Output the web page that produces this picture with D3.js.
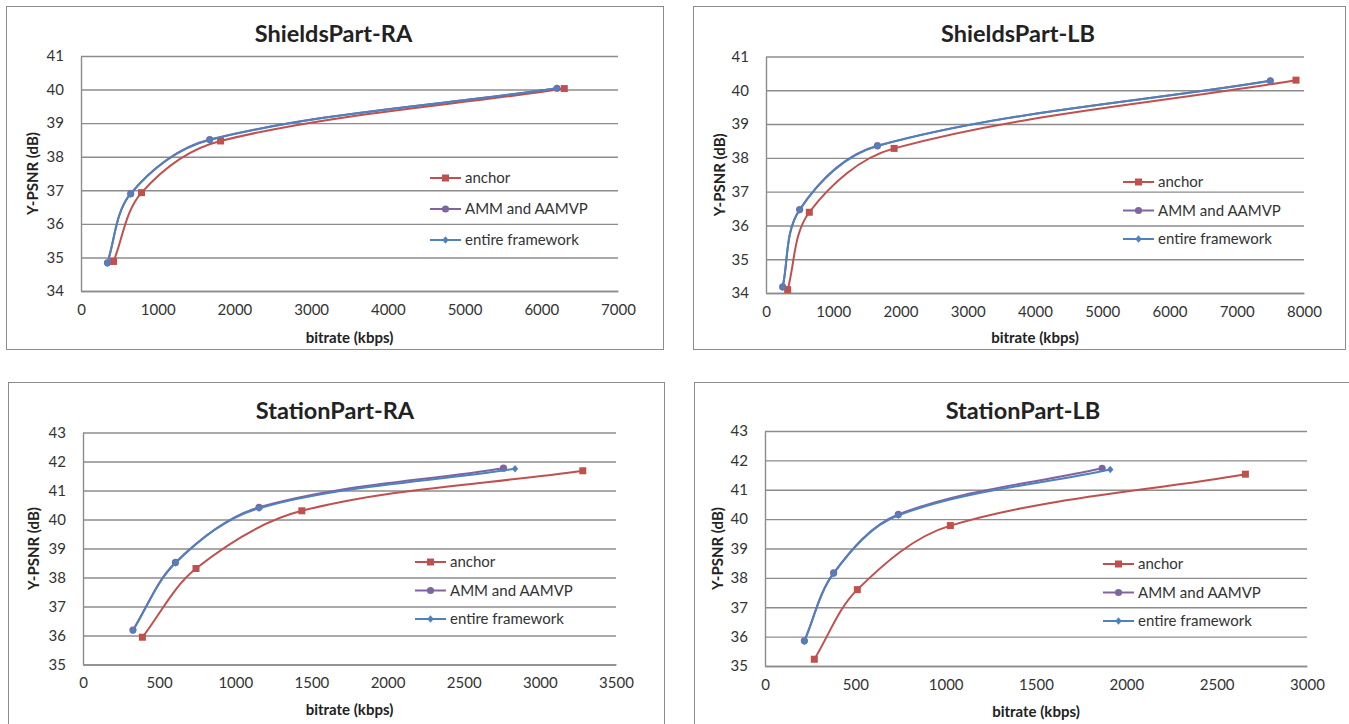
<!DOCTYPE html>
<html>
<head>
<meta charset="utf-8">
<script src="https://cdn.jsdelivr.net/npm/d3@7"></script>
<style>
  body { margin: 0; background: #fff; }
  svg text { font-family: Lato, "Open Sans", sans-serif; fill: #222; }
  .title { font-size: 23.5px; font-weight: bold; }
  .axis-title { font-size: 15px; font-weight: bold; }
  .tick text { font-size: 15px; fill: #333; }
  .legend text { font-size: 15px; fill: #333; }
</style>
</head>
<body>
<div id="chart"></div>
<script>
// series names (legend order)
const seriesNames = ["anchor", "AMM and AAMVP", "entire framework"];
const seriesColors = ["#C0504D", "#8064A2", "#4F81BD"];

// ShieldsPart-RA  [bitrate kbps, Y-PSNR dB]
const shieldsRA_anchor = [[424, 34.88], [789, 36.93], [1819, 38.47], [6300, 40.03]];
const shieldsRA_amm    = [[345, 34.84], [648, 36.90], [1678, 38.51], [6205, 40.04]];
const shieldsRA_entire = [[342, 34.83], [645, 36.89], [1675, 38.50], [6200, 40.04]];

// ShieldsPart-LB
const shieldsLB_anchor = [[322, 34.10], [644, 36.39], [1905, 38.28], [7881, 40.30]];
const shieldsLB_amm    = [[248, 34.18], [500, 36.47], [1657, 38.36], [7499, 40.28]];
const shieldsLB_entire = [[248, 34.17], [500, 36.46], [1657, 38.35], [7499, 40.28]];

// StationPart-RA
const stationRA_anchor = [[390, 35.94], [742, 38.31], [1437, 40.30], [3282, 41.68]];
const stationRA_amm    = [[328, 36.19], [607, 38.52], [1156, 40.42], [2761, 41.77]];
const stationRA_entire = [[328, 36.17], [607, 38.50], [1156, 40.39], [2837, 41.75]];

// StationPart-LB
const stationLB_anchor = [[273, 35.23], [511, 37.60], [1026, 39.78], [2659, 41.53]];
const stationLB_amm    = [[218, 35.86], [380, 38.17], [738, 40.16], [1866, 41.73]];
const stationLB_entire = [[218, 35.84], [380, 38.15], [738, 40.13], [1911, 41.69]];

// axis ticks
const xTicksShieldsRA = d3.range(0, 7001, 1000);
const xTicksShieldsLB = d3.range(0, 8001, 1000);
const xTicksStationRA = d3.range(0, 3501, 500);
const xTicksStationLB = d3.range(0, 3001, 500);
const yTicksShields = d3.range(34, 42, 1);
const yTicksStation = d3.range(35, 44, 1);

const panels = [
  { title: "ShieldsPart-RA", series: [shieldsRA_anchor, shieldsRA_amm, shieldsRA_entire],
    xTicks: xTicksShieldsRA, yTicks: yTicksShields,
    frame: [6, 6, 657, 343], plot: [81, 56, 618, 291], titleY: 42, xTitleY: 343, yTitleX: 38,
    legend: [430, 178, 31] },
  { title: "ShieldsPart-LB", series: [shieldsLB_anchor, shieldsLB_amm, shieldsLB_entire],
    xTicks: xTicksShieldsLB, yTicks: yTicksShields,
    frame: [693, 6, 652, 343], plot: [766, 56.5, 1304, 293], titleY: 42, xTitleY: 343, yTitleX: 725,
    legend: [1123, 182, 28.5] },
  { title: "StationPart-RA", series: [stationRA_anchor, stationRA_amm, stationRA_entire],
    xTicks: xTicksStationRA, yTicks: yTicksStation,
    frame: [8, 382, 656, 360], plot: [83, 432.5, 616, 664.5], titleY: 419, xTitleY: 715, yTitleX: 39,
    legend: [415, 562, 28.5] },
  { title: "StationPart-LB", series: [stationLB_anchor, stationLB_amm, stationLB_entire],
    xTicks: xTicksStationLB, yTicks: yTicksStation,
    frame: [694, 382, 660, 360], plot: [765, 431, 1307, 666], titleY: 419, xTitleY: 717, yTitleX: 723,
    legend: [1103, 564, 28.5] }
];

const svg = d3.select("#chart").append("svg")
  .attr("width", 1349).attr("height", 724);

// spreadsheet-like smoothing: tangent along neighbour chord, handle length scaled to segment
function smoothPath(pts) {
  const p = d3.path();
  const n = pts.length;
  const tan = pts.map((q, i) => {
    const a = pts[Math.max(i - 1, 0)], b = pts[Math.min(i + 1, n - 1)];
    const dx = b[0] - a[0], dy = b[1] - a[1], len = Math.hypot(dx, dy) || 1;
    return [dx / len, dy / len];
  });
  p.moveTo(pts[0][0], pts[0][1]);
  for (let i = 0; i < n - 1; i++) {
    const a = pts[i], b = pts[i + 1];
    const L = Math.hypot(b[0] - a[0], b[1] - a[1]) / 3;
    p.bezierCurveTo(a[0] + tan[i][0] * L, a[1] + tan[i][1] * L,
                    b[0] - tan[i + 1][0] * L, b[1] - tan[i + 1][1] * L, b[0], b[1]);
  }
  return p.toString();
}

function drawMarker(g, i, x, y, color) {
  if (i === 0) {
    g.append("rect").attr("x", x - 3.5).attr("y", y - 3.5)
      .attr("width", 7).attr("height", 7).attr("fill", color);
  } else if (i === 1) {
    g.append("circle").attr("cx", x).attr("cy", y).attr("r", 3.6).attr("fill", color);
  } else {
    g.append("path").attr("d", `M${x} ${y - 3.8} L${x + 3.2} ${y} L${x} ${y + 3.8} L${x - 3.2} ${y} Z`)
      .attr("fill", color);
  }
}

panels.forEach(p => {
  const g = svg.append("g");
  const [fx, fy, fw, fh] = p.frame;
  g.append("rect").attr("x", fx + 0.5).attr("y", fy + 0.5)
    .attr("width", fw).attr("height", fh)
    .attr("fill", "#fff").attr("stroke", "#8c8c8c").attr("stroke-width", 1);

  const [x0, y0, x1, y1] = p.plot;
  const x = d3.scaleLinear().domain(d3.extent(p.xTicks)).range([x0, x1]);
  const y = d3.scaleLinear().domain(d3.extent(p.yTicks)).range([y1, y0]);

  // gridlines
  g.append("g").attr("class", "grid")
    .attr("transform", `translate(${x0},0)`)
    .call(d3.axisLeft(y).tickValues(p.yTicks).tickSize(-(x1 - x0)).tickFormat(""))
    .call(a => a.select(".domain").remove())
    .selectAll("line").attr("stroke", "#8c8c8c").attr("stroke-width", 1.4);

  // y axis labels
  g.append("g").attr("transform", `translate(${x0},0)`)
    .call(d3.axisLeft(y).tickValues(p.yTicks).tickSize(0).tickPadding(17).tickFormat(d3.format("d")))
    .call(a => a.select(".domain").attr("stroke", "#8c8c8c").attr("stroke-width", 1.4));

  // x axis labels
  g.append("g").attr("transform", `translate(0,${y1})`)
    .call(d3.axisBottom(x).tickValues(p.xTicks).tickSize(0).tickPadding(13).tickFormat(d3.format("d")))
    .call(a => a.select(".domain").attr("stroke", "#8c8c8c").attr("stroke-width", 1.4));

  // titles
  g.append("text").attr("class", "title")
    .attr("x", fx + fw / 2 - 1).attr("y", p.titleY).attr("text-anchor", "middle").text(p.title);
  g.append("text").attr("class", "axis-title")
    .attr("x", (x0 + x1) / 2).attr("y", p.xTitleY).attr("text-anchor", "middle").text("bitrate (kbps)");
  g.append("text").attr("class", "axis-title")
    .attr("transform", `translate(${p.yTitleX},${(y0 + y1) / 2}) rotate(-90)`)
    .attr("text-anchor", "middle").text("Y-PSNR (dB)");

  // series lines, anchor first
  p.series.forEach((s, i) => {
    const pts = s.map(d => [x(d[0]), y(d[1])]);
    g.append("path").attr("d", smoothPath(pts))
      .attr("fill", "none").attr("stroke", seriesColors[i]).attr("stroke-width", 2);
    pts.forEach(q => drawMarker(g, i, q[0], q[1], seriesColors[i]));
  });

  // legend
  const [lx, ly, step] = p.legend;
  const lg = g.append("g").attr("class", "legend");
  seriesNames.forEach((name, i) => {
    const yy = ly + i * step;
    lg.append("line").attr("x1", lx).attr("x2", lx + 31).attr("y1", yy).attr("y2", yy)
      .attr("stroke", seriesColors[i]).attr("stroke-width", 2);
    drawMarker(lg, i, lx + 15.5, yy, seriesColors[i]);
    lg.append("text").attr("x", lx + 35).attr("y", yy + 5).text(name);
  });
});
</script>
</body>
</html>
